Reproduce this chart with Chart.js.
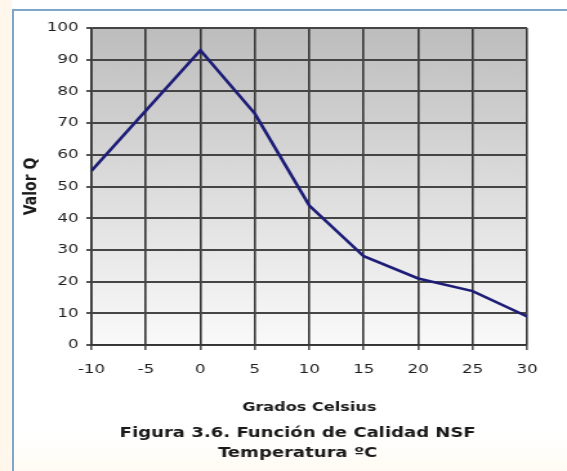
<!DOCTYPE html>
<html>
<head>
<meta charset="utf-8">
<script src="https://cdn.jsdelivr.net/npm/chart.js@4.4.1/dist/chart.umd.min.js"></script>
<style>
    html, body {
        margin: 0;
        padding: 0;
        background: #ffffff;
    }
    #wrap {
        position: relative;
        width: 567px;
        height: 471px;
        background: linear-gradient(to right, #fff6ec 0px, #fff6ec 12px, #ffffff 12px);
    }
    #frame {
        position: absolute;
        left: 12px;
        top: 9px;
        right: 0;
        bottom: 0;
        border-left: 2px solid #7ea6cb;
        border-top: 2px solid #7ea6cb;
        background: linear-gradient(to bottom, #ffffff 0%, #ffffff 92%, #fffbf3 100%);
    }
    /* el lienzo se dibuja más estrecho y se ensancha al ancho de la página */
    canvas {
        position: absolute;
        left: 0;
        top: 0;
    }
</style>
</head>
<body>
<div id="wrap">
    <div id="frame"></div>
    <canvas id="chartTemperatura" width="440" height="471" style="width:567px;height:471px"></canvas>
</div>
<script>
const temperaturas = [-10, -5, 0, 5, 10, 15, 20, 25, 30];
const valorQ = [55, 74, 93, 73, 44, 28, 21, 17, 9];
const yTicks = [0, 10, 20, 30, 40, 50, 60, 70, 80, 90, 100];
const xTicks = [-10, -5, 0, 5, 10, 15, 20, 25, 30];
const tituloFigura = ['Figura 3.6. Función de Calidad NSF', 'Temperatura ºC'];

const FUENTE = "'DejaVu Sans', Verdana, sans-serif";

// fondo gris degradado del área de trazado
const fondoArea = {
    id: 'fondoArea',
    beforeDraw(chart) {
        const { ctx, chartArea: a } = chart;
        const g = ctx.createLinearGradient(0, a.top, 0, a.bottom);
        g.addColorStop(0, '#bdbdbd');
        g.addColorStop(0.5, '#dcdcdc');
        g.addColorStop(1, '#fafafa');
        ctx.save();
        ctx.fillStyle = g;
        ctx.fillRect(a.left, a.top, a.right - a.left, a.bottom - a.top);
        ctx.restore();
    }
};

// pie de figura, un poco a la izquierda del centro del área de trazado
const pieFigura = {
    id: 'pieFigura',
    afterDraw(chart, args, opts) {
        const { ctx, chartArea: a } = chart;
        const cx = (a.left + a.right) / 2 + opts.desplazamiento;
        ctx.save();
        ctx.font = 'bold 14px ' + FUENTE;
        ctx.fillStyle = '#1a1a1a';
        ctx.textAlign = 'center';
        ctx.textBaseline = 'middle';
        opts.lineas.forEach((t, i) => {
            ctx.fillText(t, cx, a.bottom + opts.inicio + i * opts.interlinea);
        });
        ctx.restore();
    }
};

const puntos = temperaturas.map((t, i) => ({ x: t, y: valorQ[i] }));
const ctx = document.getElementById('chartTemperatura').getContext('2d');

new Chart(ctx, {
    type: 'line',
    data: {
        datasets: [{
            data: puntos,
            borderColor: '#1d1d78',
            borderWidth: 2.6,
            pointRadius: 0,
            tension: 0,
            fill: false
        }]
    },
    options: {
        responsive: false,
        animation: false,
        layout: {
            padding: { left: 11, right: 31, top: 28, bottom: 48 }
        },
        plugins: {
            legend: { display: false },
            tooltip: { enabled: false },
            pieFigura: {
                lineas: tituloFigura,
                desplazamiento: -9,
                inicio: 88,
                interlinea: 20
            }
        },
        scales: {
            x: {
                type: 'linear',
                min: -10,
                max: 30,
                afterBuildTicks: s => { s.ticks = xTicks.map(v => ({ value: v })); },
                afterFit: s => { s.height = 78; },
                grid: {
                    color: '#353535',
                    lineWidth: 1.6,
                    tickLength: 5,
                    tickColor: '#555555'
                },
                border: { color: '#353535', width: 1.6 },
                ticks: {
                    color: '#1e1e1e',
                    padding: 12,
                    font: { family: FUENTE, size: 13 }
                },
                title: {
                    display: true,
                    text: 'Grados Celsius',
                    color: '#1a1a1a',
                    font: { family: FUENTE, size: 12.5, weight: 'bold' },
                    padding: { top: 0, bottom: 8 }
                }
            },
            y: {
                min: 0,
                max: 100,
                afterBuildTicks: s => { s.ticks = yTicks.map(v => ({ value: v })); },
                afterFit: s => { s.width = 60; },
                grid: {
                    color: '#454545',
                    lineWidth: 2,
                    tickLength: 4,
                    tickColor: '#555555'
                },
                border: { color: '#353535', width: 1.6 },
                ticks: {
                    color: '#1e1e1e',
                    padding: 6,
                    font: { family: FUENTE, size: 13 }
                },
                title: {
                    display: true,
                    text: 'Valor Q',
                    color: '#1a1a1a',
                    font: { family: FUENTE, size: 14, weight: 'bold' },
                    padding: { top: 5, bottom: 0 }
                }
            }
        }
    },
    plugins: [fondoArea, pieFigura]
});
</script>
</body>
</html>
